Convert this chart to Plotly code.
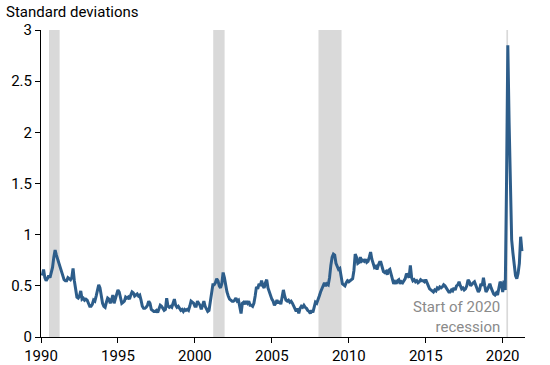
import plotly.graph_objects as go

# Monthly values (Jan..Dec) by year
years = list(range(1990, 2022))
vals_by_year = {
    1990: [0.60, 0.66, 0.58, 0.55, 0.57, 0.60, 0.58, 0.62, 0.68, 0.78, 0.85, 0.80],
    1991: [0.76, 0.72, 0.68, 0.66, 0.60, 0.56, 0.55, 0.55, 0.58, 0.57, 0.56, 0.58],
    1992: [0.67, 0.55, 0.45, 0.39, 0.38, 0.40, 0.45, 0.37, 0.38, 0.36, 0.37, 0.36],
    1993: [0.33, 0.30, 0.30, 0.32, 0.36, 0.35, 0.40, 0.46, 0.51, 0.48, 0.40, 0.33],
    1994: [0.30, 0.29, 0.34, 0.38, 0.37, 0.33, 0.36, 0.41, 0.33, 0.38, 0.42, 0.46],
    1995: [0.44, 0.37, 0.33, 0.34, 0.35, 0.39, 0.38, 0.39, 0.37, 0.41, 0.44, 0.43],
    1996: [0.40, 0.41, 0.42, 0.40, 0.41, 0.36, 0.30, 0.28, 0.28, 0.29, 0.31, 0.35],
    1997: [0.33, 0.27, 0.26, 0.25, 0.25, 0.26, 0.24, 0.27, 0.31, 0.30, 0.28, 0.26],
    1998: [0.27, 0.38, 0.30, 0.29, 0.30, 0.29, 0.33, 0.37, 0.31, 0.29, 0.30, 0.28],
    1999: [0.26, 0.27, 0.25, 0.27, 0.26, 0.27, 0.26, 0.30, 0.35, 0.34, 0.33, 0.30],
    2000: [0.30, 0.35, 0.33, 0.31, 0.27, 0.31, 0.35, 0.30, 0.27, 0.25, 0.26, 0.35],
    2001: [0.47, 0.51, 0.51, 0.53, 0.57, 0.55, 0.50, 0.48, 0.52, 0.63, 0.58, 0.50],
    2002: [0.44, 0.40, 0.37, 0.36, 0.35, 0.35, 0.36, 0.38, 0.35, 0.36, 0.30, 0.23],
    2003: [0.33, 0.34, 0.32, 0.35, 0.33, 0.35, 0.31, 0.31, 0.30, 0.33, 0.40, 0.49],
    2004: [0.47, 0.52, 0.50, 0.55, 0.50, 0.48, 0.53, 0.56, 0.48, 0.44, 0.40, 0.37],
    2005: [0.35, 0.31, 0.33, 0.36, 0.33, 0.35, 0.32, 0.38, 0.46, 0.40, 0.36, 0.35],
    2006: [0.36, 0.34, 0.35, 0.33, 0.30, 0.28, 0.25, 0.28, 0.23, 0.28, 0.30, 0.29],
    2007: [0.31, 0.29, 0.28, 0.26, 0.25, 0.23, 0.26, 0.24, 0.30, 0.34, 0.33, 0.36],
    2008: [0.40, 0.44, 0.47, 0.51, 0.53, 0.50, 0.52, 0.51, 0.58, 0.70, 0.78, 0.81],
    2009: [0.80, 0.72, 0.68, 0.66, 0.67, 0.60, 0.52, 0.51, 0.50, 0.53, 0.55, 0.54],
    2010: [0.55, 0.56, 0.57, 0.65, 0.81, 0.78, 0.72, 0.73, 0.78, 0.74, 0.75, 0.74],
    2011: [0.76, 0.73, 0.74, 0.78, 0.83, 0.76, 0.72, 0.68, 0.69, 0.66, 0.70, 0.73],
    2012: [0.73, 0.68, 0.64, 0.63, 0.64, 0.61, 0.65, 0.66, 0.62, 0.58, 0.52, 0.54],
    2013: [0.52, 0.55, 0.56, 0.52, 0.54, 0.53, 0.55, 0.57, 0.62, 0.60, 0.58, 0.70],
    2014: [0.58, 0.55, 0.56, 0.54, 0.55, 0.53, 0.54, 0.56, 0.55, 0.55, 0.54, 0.56],
    2015: [0.53, 0.50, 0.47, 0.46, 0.45, 0.44, 0.46, 0.45, 0.48, 0.47, 0.49, 0.48],
    2016: [0.49, 0.51, 0.50, 0.48, 0.45, 0.44, 0.44, 0.46, 0.45, 0.48, 0.46, 0.50],
    2017: [0.51, 0.54, 0.50, 0.47, 0.48, 0.46, 0.47, 0.50, 0.56, 0.54, 0.50, 0.52],
    2018: [0.53, 0.54, 0.50, 0.47, 0.44, 0.46, 0.52, 0.50, 0.58, 0.50, 0.44, 0.46],
    2019: [0.50, 0.52, 0.48, 0.44, 0.42, 0.41, 0.43, 0.41, 0.48, 0.54, 0.52, 0.44],
    2020: [0.55, 0.46, 1.50, 2.85, 2.10, 1.40, 0.95, 0.82, 0.72, 0.60, 0.57, 0.62],
    2021: [0.72, 0.98, 0.84],
}

# Recessions (start, end) in decimal years
rec_start = [1990.52, 2001.19, 2008.03, 2020.24]
rec_end = [1991.21, 2001.93, 2009.53, 2020.35]

y_ticks = [0, 0.5, 1, 1.5, 2, 2.5, 3]
y_tick_labels = ["0", "0.5", "1", "1.5", "2", "2.5", "3"]
x_ticks = [1990, 1995, 2000, 2005, 2010, 2015, 2020]

xs, ys = [], []
for yr in years:
    for m, v in enumerate(vals_by_year[yr]):
        xs.append(yr + (m + 1) / 12)
        ys.append(v)

fig = go.Figure()
fig.add_trace(go.Scatter(x=xs, y=ys, mode="lines",
                         line=dict(color="#2d5d8a", width=3),
                         showlegend=False, hoverinfo="skip"))

for s, e in zip(rec_start, rec_end):
    fig.add_shape(type="rect", xref="x", yref="y", x0=s, x1=e, y0=0, y1=3,
                  fillcolor="#d9d9d9", line=dict(width=0), layer="below")

fig.add_annotation(x=2019.95, y=0.195, xref="x", yref="y",
                   text="Start of 2020<br>recession", showarrow=False,
                   xanchor="right", yanchor="middle", align="right",
                   font=dict(family="Roboto", size=15, color="#8a8a8a"))

fig.add_annotation(x=0, y=1, xref="paper", yref="paper",
                   text="Standard deviations", showarrow=False,
                   xanchor="left", yanchor="bottom", xshift=-37, yshift=7,
                   font=dict(family="Roboto", size=15, color="#000000"))

fig.update_layout(
    width=550, height=365,
    margin=dict(l=41, r=25, t=30, b=28),
    paper_bgcolor="white", plot_bgcolor="white",
    font=dict(family="Roboto", size=15, color="#000000"),
)
fig.update_xaxes(range=[1990, 2021.45], tickvals=x_ticks, ticks="outside",
                 ticklen=5, tickcolor="black", showline=True, linecolor="black",
                 linewidth=1, showgrid=False, zeroline=False, automargin=False)
fig.update_yaxes(range=[0, 3], tickvals=y_ticks, ticktext=y_tick_labels,
                 ticks="outside", ticklen=5, tickcolor="black", showline=True,
                 linecolor="black", linewidth=1, showgrid=False, zeroline=False,
                 automargin=False)

fig.write_html("out.html", config={"displayModeBar": False},
               post_script="document.body.style.margin='0px';document.body.style.padding='0px';")
